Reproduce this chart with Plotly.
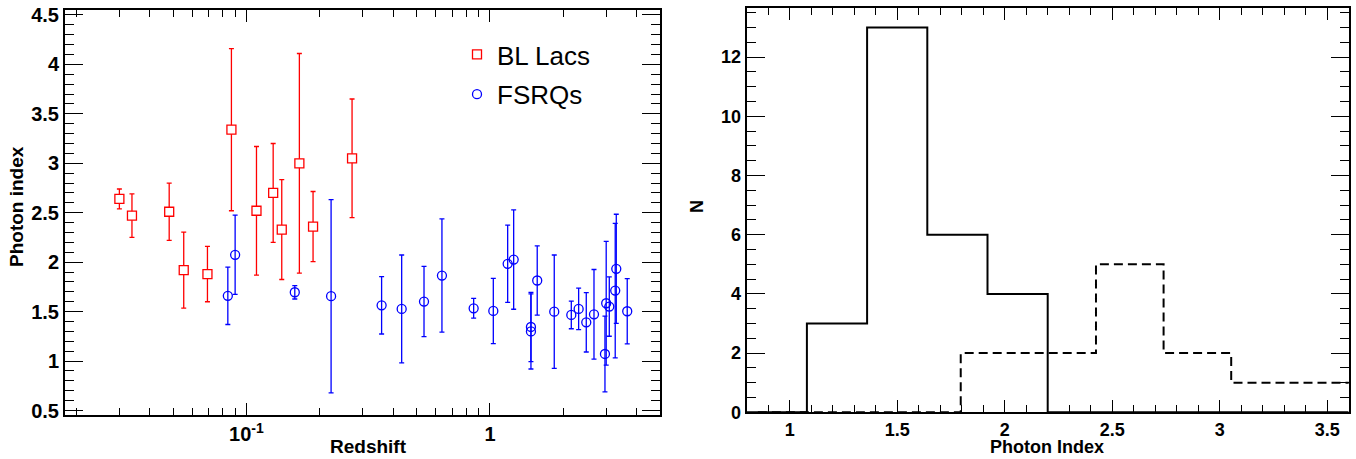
import plotly.graph_objects as go

W, H = 1356, 459

# ---------------- data (left panel) ----------------
bl_z = [0.0301, 0.0339, 0.0482, 0.0553, 0.0692, 0.0868, 0.110, 0.1288, 0.1397, 0.165, 0.1878, 0.2715]
bl_gamma = [2.64, 2.47, 2.51, 1.92, 1.88, 3.34, 2.52, 2.70, 2.33, 3.00, 2.36, 3.05]
bl_err = [0.10, 0.22, 0.29, 0.385, 0.28, 0.82, 0.65, 0.50, 0.505, 1.11, 0.355, 0.60]

fs_z = [0.0839, 0.0899, 0.158, 0.2227, 0.359, 0.434, 0.536, 0.635, 0.857, 1.032, 1.182, 1.251,
        1.473, 1.473, 1.563, 1.836, 2.157, 2.312, 2.485, 2.673, 2.965, 3.00, 3.089, 3.267, 3.30, 3.66]
fs_gamma = [1.66, 2.075, 1.696, 1.656, 1.564, 1.528, 1.602, 1.865, 1.534, 1.507, 1.984, 2.027,
            1.345, 1.30, 1.815, 1.50, 1.467, 1.528, 1.392, 1.473, 1.072, 1.585, 1.551, 1.713, 1.933, 1.504]
fs_err = [0.29, 0.40, 0.068, 0.977, 0.29, 0.545, 0.355, 0.573, 0.10, 0.33, 0.39, 0.503,
          0.35, 0.38, 0.35, 0.573, 0.14, 0.21, 0.30, 0.453, 0.383, 0.625, 0.30, 0.68, 0.552, 0.33]

# ---------------- data (right panel) ----------------
fsrq_edges = [0.80, 1.08, 1.36, 1.64, 1.92, 2.20, 2.48, 2.76, 3.04, 3.32, 3.60]
fsrq_counts = [0, 3, 13, 6, 4, 0, 0, 0, 0, 0]
bl_edges = [0.852, 1.1665, 1.481, 1.7955, 2.11, 2.4245, 2.739, 3.0535, 3.368, 3.6825]
bl_counts = [0, 0, 0, 2, 2, 5, 2, 1, 1]

x_major_vals = [0.1, 1]
x_major_text = ["10<sup>-1</sup>", "1"]
x_minor_vals = [0.02, 0.03, 0.04, 0.05, 0.06, 0.07, 0.08, 0.09,
                0.2, 0.3, 0.4, 0.5, 0.6, 0.7, 0.8, 0.9, 2, 3, 4]

RED = "#ff0000"
BLUE = "#0000ff"
FONT = "Liberation Sans, Arial, Helvetica, sans-serif"

fig = go.Figure()

fig.add_trace(go.Scatter(
    x=bl_z, y=bl_gamma, mode="markers", name="BL Lacs", legendgroup="a",
    marker=dict(symbol="square", size=9, color="white", line=dict(color=RED, width=1.3)),
    error_y=dict(type="data", array=bl_err, color=RED, thickness=1.3, width=2.5),
    xaxis="x", yaxis="y"))
fig.add_trace(go.Scatter(
    x=fs_z, y=fs_gamma, mode="markers", name="FSRQs", legendgroup="b",
    marker=dict(symbol="circle", size=9, color="rgba(255,255,255,0)", line=dict(color=BLUE, width=1.3)),
    error_y=dict(type="data", array=fs_err, color=BLUE, thickness=1.3, width=2.5),
    xaxis="x", yaxis="y"))

# histograms as step outlines
fig.add_trace(go.Scatter(
    x=fsrq_edges, y=fsrq_counts + [fsrq_counts[-1]], mode="lines", line_shape="hv",
    line=dict(color="black", width=2), showlegend=False, xaxis="x2", yaxis="y2"))
fig.add_trace(go.Scatter(
    x=bl_edges, y=bl_counts + [bl_counts[-1]], mode="lines", line_shape="hv",
    line=dict(color="black", width=2, dash="9px,5px"), showlegend=False, xaxis="x2", yaxis="y2"))

tickfont_l = dict(family=FONT, size=20, color="black", weight="bold")
tickfont_r = dict(family=FONT, size=18, color="black", weight="bold")
common = dict(showline=True, linecolor="black", linewidth=2, mirror="allticks",
              ticks="inside", tickcolor="black", tickwidth=1, showgrid=False,
              zeroline=False, automargin=False)

fig.update_layout(
    width=W, height=H, margin=dict(l=0, r=0, t=0, b=0),
    paper_bgcolor="white", plot_bgcolor="white",
    xaxis=dict(domain=[65 / W, 660 / W], type="log", range=[-1.7447, 0.698],
               tickmode="array", tickvals=x_major_vals, ticktext=x_major_text, ticklen=12,
               minor=dict(tickmode="array", tickvals=x_minor_vals, ticklen=7,
                          tickcolor="black", tickwidth=1, ticks="inside"),
               anchor="y", tickfont=tickfont_l, **common),
    yaxis=dict(domain=[44 / H, 449 / H], range=[0.455, 4.55], dtick=0.5, tick0=0.5, ticklen=18,
               minor=dict(dtick=0.1, ticklen=9, tickcolor="black", tickwidth=1, ticks="inside"),
               anchor="x", tickfont=tickfont_l, **common),
    xaxis2=dict(domain=[746.7 / W, 1348.7 / W], range=[0.8, 3.6], dtick=0.5, tick0=1, ticklen=12,
                minor=dict(dtick=0.1, ticklen=7, tickcolor="black", tickwidth=1, ticks="inside"),
                anchor="y2", tickfont=tickfont_r, **common),
    yaxis2=dict(domain=[46.7 / H, 450.7 / H], range=[0, 13.65], dtick=2, tick0=0, ticklen=18,
                minor=dict(dtick=0.5, ticklen=9, tickcolor="black", tickwidth=1, ticks="inside"),
                anchor="x2", tickfont=tickfont_r, **common),
    legend=dict(x=457 / W, y=1 - 31 / H, xanchor="left", yanchor="top",
                bgcolor="rgba(0,0,0,0)", borderwidth=0, tracegroupgap=3,
                font=dict(family=FONT, size=26, color="black")),
    showlegend=True,
)

annots = [
    dict(text="Photon index", x=17 / W, y=1 - 207 / H, textangle=-90, size=19),
    dict(text="Redshift", x=368 / W, y=1 - 446.5 / H, textangle=0, size=19),
    dict(text="N", x=697 / W, y=1 - 207 / H, textangle=-90, size=18),
    dict(text="Photon Index", x=1046.5 / W, y=1 - 446.5 / H, textangle=0, size=18),
]
for a in annots:
    size = a.pop("size")
    fig.add_annotation(xref="paper", yref="paper", xanchor="center", yanchor="middle",
                       showarrow=False,
                       font=dict(family=FONT, size=size, color="black", weight="bold"), **a)

fig.write_html("out.html", config={"displayModeBar": False},
               post_script="document.body.style.margin='0';document.body.style.overflow='hidden';")
